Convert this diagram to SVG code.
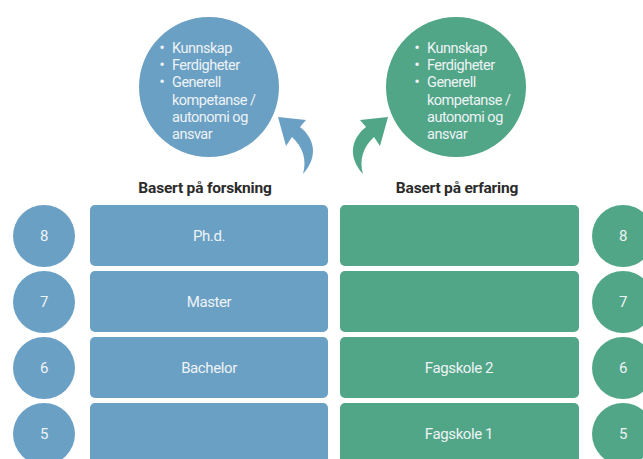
<svg xmlns="http://www.w3.org/2000/svg" width="643" height="459" viewBox="0 0 643 459">
<style>
.b{fill:#6aa0c4}
.g{fill:#51a687}
.t{font-family:Roboto,"Liberation Sans",sans-serif;font-size:15px;letter-spacing:-0.4px;fill:#eef3f6;text-anchor:middle;dominant-baseline:central}
.l{font-family:Roboto,"Liberation Sans",sans-serif;font-size:14.5px;letter-spacing:-0.5px;fill:#eef3f6}
.d{font-family:Roboto,"Liberation Sans",sans-serif;font-size:14px;font-weight:bold;fill:#eef3f6;text-anchor:middle}
.h{font-family:Roboto,"Liberation Sans",sans-serif;font-size:15.5px;font-weight:bold;letter-spacing:-0.2px;fill:#2b2b2b;text-anchor:middle}
</style>
<rect width="643" height="459" fill="#ffffff"/>
<g id="top-left">
<circle class="b" cx="209" cy="87" r="70"/>
<text class="d" x="162" y="53">•</text><text class="l" x="172" y="53">Kunnskap</text>
<text class="d" x="162" y="70.2">•</text><text class="l" x="172" y="70.2">Ferdigheter</text>
<text class="d" x="162" y="87.4">•</text><text class="l" x="172" y="87.4">Generell</text>
<text class="l" x="172" y="104.6">kompetanse /</text>
<text class="l" x="172" y="121.8">autonomi og</text>
<text class="l" x="172" y="139">ansvar</text>
</g>
<g id="top-right">
<circle class="g" cx="456" cy="87" r="70"/>
<text class="d" x="417" y="53">•</text><text class="l" x="427" y="53">Kunnskap</text>
<text class="d" x="417" y="70.2">•</text><text class="l" x="427" y="70.2">Ferdigheter</text>
<text class="d" x="417" y="87.4">•</text><text class="l" x="427" y="87.4">Generell</text>
<text class="l" x="427" y="104.6">kompetanse /</text>
<text class="l" x="427" y="121.8">autonomi og</text>
<text class="l" x="427" y="139">ansvar</text>
</g>
<g id="connectors">
<path class="b" d="M278,117 L306,120 L300,127 C313,137 320,155 303,174 C307,160 303,147 292,137 L286,146 Z"/>
<path class="g" d="M388,117 L360,120 L366,127 C353,137 346,155 363,174 C359,160 363,147 374,137 L380,146 Z"/>
</g>
<g id="heading-left"><text class="h" x="205" y="193">Basert på forskning</text></g>
<g id="heading-right"><text class="h" x="457" y="193">Basert på erfaring</text></g>
<g id="row8">
<circle class="b" cx="44" cy="236" r="31"/><text class="t" x="44" y="236">8</text>
<rect class="b" x="90" y="205" width="238" height="61" rx="5"/><text class="t" x="209" y="236">Ph.d.</text>
<rect class="g" x="340" y="205" width="239" height="61" rx="5"/>
<circle class="g" cx="623" cy="236" r="31"/><text class="t" x="623" y="236">8</text>
</g>
<g id="row7">
<circle class="b" cx="44" cy="302" r="31"/><text class="t" x="44" y="302">7</text>
<rect class="b" x="90" y="271" width="238" height="61" rx="5"/><text class="t" x="209" y="302">Master</text>
<rect class="g" x="340" y="271" width="239" height="61" rx="5"/>
<circle class="g" cx="623" cy="302" r="31"/><text class="t" x="623" y="302">7</text>
</g>
<g id="row6">
<circle class="b" cx="44" cy="368" r="31"/><text class="t" x="44" y="368">6</text>
<rect class="b" x="90" y="337" width="238" height="61" rx="5"/><text class="t" x="209" y="368">Bachelor</text>
<rect class="g" x="340" y="337" width="239" height="61" rx="5"/><text class="t" x="459" y="368">Fagskole 2</text>
<circle class="g" cx="623" cy="368" r="31"/><text class="t" x="623" y="368">6</text>
</g>
<g id="row5">
<circle class="b" cx="44" cy="434" r="31"/><text class="t" x="44" y="434">5</text>
<rect class="b" x="90" y="403" width="238" height="61" rx="5"/>
<rect class="g" x="340" y="403" width="239" height="61" rx="5"/><text class="t" x="459" y="434">Fagskole 1</text>
<circle class="g" cx="623" cy="434" r="31"/><text class="t" x="623" y="434">5</text>
</g>
</svg>
